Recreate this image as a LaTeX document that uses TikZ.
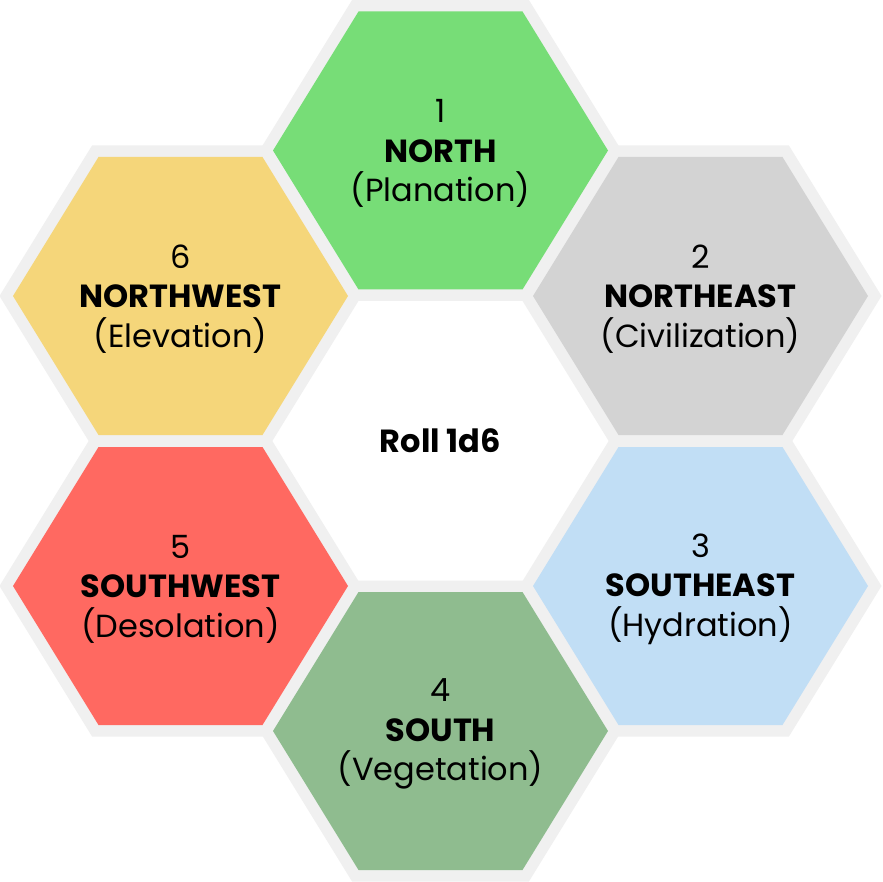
\documentclass[tikz,border=0pt]{standalone}
\usepackage{fontspec}
\setmainfont{Poppins}
\definecolor{hexborder}{HTML}{F0F0F0}
\definecolor{cN}{HTML}{77DD77}
\definecolor{cNE}{HTML}{D3D3D3}
\definecolor{cSE}{HTML}{C1DEF5}
\definecolor{cS}{HTML}{8FBC8F}
\definecolor{cSW}{HTML}{FF6961}
\definecolor{cNW}{HTML}{F5D67A}
\tikzset{
  hexline/.style={draw=hexborder, line width=23pt, line join=miter},
  hexlabel/.style={align=center, font=\fontsize{32}{39.5}\selectfont, inner sep=0pt, yshift=-3pt},
  centerlabel/.style={font=\fontsize{32}{38}\selectfont\bfseries, inner sep=0pt}
}
\newcommand{\hexpath}[2]{(#1-167.5,#2) -- (#1-82,#2+139) -- (#1+82,#2+139) -- (#1+167.5,#2) -- (#1+82,#2-139) -- (#1-82,#2-139) -- cycle}
\begin{document}
\begin{tikzpicture}[x=1pt,y=1pt]
\useasboundingbox (0,0) rectangle (883,-882);
\fill[white] (0,0) rectangle (883,-882);
% borders
\foreach \cx/\cy in {440.5/-150.5, 700.5/-296, 700.5/-586, 440.5/-731, 180.5/-586, 180.5/-296}{
  \path[hexline] \hexpath{\cx}{\cy};
}
% fills
\fill[cN]  \hexpath{440.5}{-150.5};
\fill[cNE] \hexpath{700.5}{-296};
\fill[cSE] \hexpath{700.5}{-586};
\fill[cS]  \hexpath{440.5}{-731};
\fill[cSW] \hexpath{180.5}{-586};
\fill[cNW] \hexpath{180.5}{-296};
% labels
\node[hexlabel] (north) at (440.5,-150.5) {1\\\textbf{NORTH}\\(Planation)};
\node[hexlabel] (northeast) at (700.5,-296) {2\\\textbf{NORTHEAST}\\(Civilization)};
\node[hexlabel] (southeast) at (700.5,-586) {3\\\textbf{SOUTHEAST}\\(Hydration)};
\node[hexlabel] (south) at (440.5,-731) {4\\\textbf{SOUTH}\\(Vegetation)};
\node[hexlabel] (southwest) at (180.5,-586) {5\\\textbf{SOUTHWEST}\\(Desolation)};
\node[hexlabel] (northwest) at (180.5,-296) {6\\\textbf{NORTHWEST}\\(Elevation)};
\node[centerlabel] (roll) at (440.5,-441) {Roll 1d6};
\end{tikzpicture}
\end{document}
